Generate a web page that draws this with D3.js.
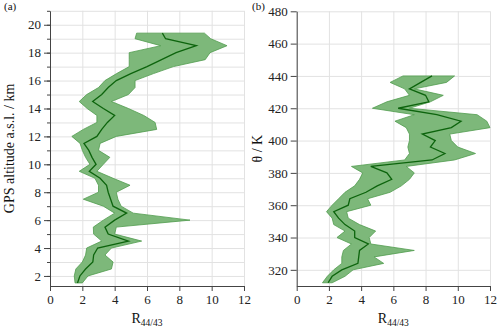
<!DOCTYPE html>
<html>
<head>
<meta charset="utf-8">
<script src="https://cdn.jsdelivr.net/npm/d3@7"></script>
<style>
  body { margin: 0; background: #fff; }
  svg { display: block; font-family: "Liberation Serif", "DejaVu Serif", serif; }
  .grid line { stroke: #e2e2e2; stroke-width: 1; }
  .grid path { display: none; }
  .axis path, .axis line { stroke: #444; }
  .band { fill: #7db87a; stroke: #519c4e; stroke-width: 0.8; }
  .mean { fill: none; stroke: #0d640d; stroke-width: 1.3; }
  .title { font-size: 14px; fill: #111; }
  .panel { font-size: 11px; fill: #111; }
</style>
</head>
<body>
<svg id="svg" width="500" height="330"></svg>
<script>
// panel (a): GPS altitude (km) vs R44/43
const altitude = [1.5, 2, 2.5, 3, 3.5, 4, 4.5, 5, 5.5, 6, 6.5, 7, 7.5, 8, 8.5, 9, 9.5, 10,
  10.5, 11, 11.5, 12, 12.5, 13, 13.5, 14, 14.5, 15, 15.5, 16, 16.5, 17, 17.5, 18, 18.5, 19, 19.4];
const altMean = [1.7, 1.85, 2.2, 2.65, 2.7, 2.95, 4.85, 3.6, 3.4, 4.0, 4.74, 3.9, 3.75, 3.6, 3.5, 3.1, 2.43, 2.85,
  2.6, 2.4, 2.1, 2.9, 3.2, 3.55, 4.0, 3.3, 2.64, 3.2, 3.6, 4.1, 5.0, 6.0, 6.9, 7.8, 9.05, 7.15, 6.95];
const altLow = [1.55, 1.5, 1.6, 2.0, 2.2, 2.27, 3.2, 2.7, 2.68, 3.3, 4.0, 3.3, 2.06, 3.0, 3.0, 2.78, 1.81, 2.47,
  2.2, 2.0, 1.86, 1.35, 2.06, 2.9, 2.9, 2.3, 1.81, 2.27, 3.0, 3.4, 4.12, 4.9, 4.9, 4.9, 6.85, 5.26, 5.36];
const altHigh = [2.0, 2.35, 3.8, 3.9, 3.4, 3.8, 5.67, 4.0, 4.1, 8.66, 5.15, 4.4, 4.2, 4.1, 4.95, 3.9, 2.9, 3.3,
  3.7, 3.0, 3.1, 4.1, 6.6, 6.5, 5.8, 4.85, 3.8, 4.85, 5.26, 5.26, 6.4, 7.63, 9.6, 9.9, 10.95, 9.94, 9.55];

// panel (b): potential temperature (K) vs R44/43
const theta = [312, 316, 320, 324, 328, 332, 336, 340, 344, 348, 352, 356, 360, 364, 368, 372, 376,
  380, 384, 388, 392, 396, 400, 404, 408, 412, 416, 420, 424, 428, 432, 436, 440];
const thetaMean = [1.95, 2.2, 2.8, 3.8, 3.85, 3.9, 4.45, 3.6, 3.6, 3.0, 2.6, 2.3, 3.2, 3.3, 4.3, 5.0, 5.9,
  5.6, 4.6, 8.4, 9.2, 8.3, 8.6, 7.8, 9.6, 10.2, 8.7, 6.3, 8.2, 8.0, 7.0, 7.7, 8.4];
const thetaLow = [1.6, 1.9, 2.3, 2.8, 2.8, 2.9, 3.4, 2.5, 3.0, 2.3, 2.2, 1.85, 2.2, 2.6, 3.0, 3.6, 3.9,
  4.1, 3.4, 6.7, 7.0, 6.9, 7.0, 7.0, 6.8, 6.1, 7.3, 4.7, 5.6, 7.0, 6.7, 5.8, 6.6];
const thetaHigh = [2.2, 3.0, 3.5, 5.4, 4.8, 7.3, 4.6, 4.5, 4.9, 3.9, 3.2, 3.1, 4.6, 4.4, 5.8, 6.5, 7.0,
  7.3, 6.8, 9.8, 11.1, 10.0, 9.6, 9.5, 12.0, 11.8, 11.2, 7.0, 8.3, 9.1, 7.3, 9.3, 9.8];

const xTicks = [0, 2, 4, 6, 8, 10, 12];
const altTicks = [2, 4, 6, 8, 10, 12, 14, 16, 18, 20];
const altMinor = d3.range(2, 22, 1);
const thetaTicks = [320, 340, 360, 380, 400, 420, 440, 460, 480];

const svg = d3.select("svg#svg");

var styleAxis = function(sel) {
  sel.selectAll("text")
    .style("font-family", "Liberation Serif")
    .style("font-size", "13px")
    .style("fill", "#222");
}

var drawPanel = function(cfg) {
  const x = d3.scaleLinear().domain([0, 12]).range([cfg.left, cfg.right]);
  const y = d3.scaleLinear().domain(cfg.ydomain).range([286, cfg.top]);
  const g = svg.append("g");

  // grid
  g.append("g").attr("class", "grid")
    .attr("transform", "translate(0,286)")
    .call(d3.axisBottom(x).tickValues(xTicks).tickSize(-(286 - cfg.top)).tickFormat(""));
  g.append("g").attr("class", "grid")
    .attr("transform", "translate(" + cfg.left + ",0)")
    .call(d3.axisLeft(y).tickValues(cfg.grid).tickSize(-(cfg.right - cfg.left)).tickFormat(""));

  // band + mean profile
  const rows = cfg.levels.map((v, i) => ({ v: v, m: cfg.mean[i], lo: cfg.low[i], hi: cfg.high[i] }));
  g.append("path").datum(rows).attr("class", "band")
    .attr("d", d3.area().y(d => y(d.v)).x0(d => x(d.lo)).x1(d => x(d.hi)));
  g.append("path").datum(rows).attr("class", "mean")
    .attr("d", d3.line().y(d => y(d.v)).x(d => x(d.m)));

  // axes
  if (cfg.minor) {
    g.append("g").attr("class", "axis")
      .attr("transform", "translate(" + cfg.left + ",0)")
      .call(d3.axisLeft(y).tickValues(cfg.minor).tickSize(3).tickFormat(""))
      .select(".domain").remove();
  }
  g.append("g").attr("class", "axis")
    .attr("transform", "translate(" + cfg.left + ",0)")
    .call(d3.axisLeft(y).tickValues(cfg.ticks).tickSize(6).tickSizeOuter(0).tickPadding(3))
    .call(styleAxis);
  g.append("g").attr("class", "axis")
    .attr("transform", "translate(0,286)")
    .call(d3.axisBottom(x).tickValues(xTicks).tickSize(5).tickSizeOuter(0).tickPadding(4))
    .call(styleAxis);

  // titles
  const xt = g.append("text").attr("class", "title")
    .attr("x", (cfg.left + cfg.right) / 2).attr("y", 323).attr("text-anchor", "middle");
  xt.append("tspan").text("R");
  xt.append("tspan").attr("dy", 3).attr("font-size", "9.5px").text("44/43");

  g.append("text").attr("class", "title")
    .attr("transform", "translate(" + cfg.ytitleX + "," + (cfg.top + 286) / 2 + ") rotate(-90)")
    .attr("text-anchor", "middle")
    .text(cfg.ytitle);

  g.append("text").attr("class", "panel")
    .attr("x", cfg.labelX).attr("y", 10).text(cfg.label);
}

drawPanel({
  left: 50, right: 244, top: 10.8, ydomain: [1.28, 21],
  levels: altitude, mean: altMean, low: altLow, high: altHigh,
  ticks: altTicks, minor: altMinor, grid: altMinor,
  ytitle: "GPS altitude a.s.l. / km", ytitleX: 14, label: "(a)", labelX: 4
});

drawPanel({
  left: 296.7, right: 490, top: 11.3, ydomain: [310, 480],
  levels: theta, mean: thetaMean, low: thetaLow, high: thetaHigh,
  ticks: thetaTicks, minor: null, grid: thetaTicks,
  ytitle: "\u03b8 / K", ytitleX: 262, label: "(b)", labelX: 252
});
</script>
</body>
</html>
